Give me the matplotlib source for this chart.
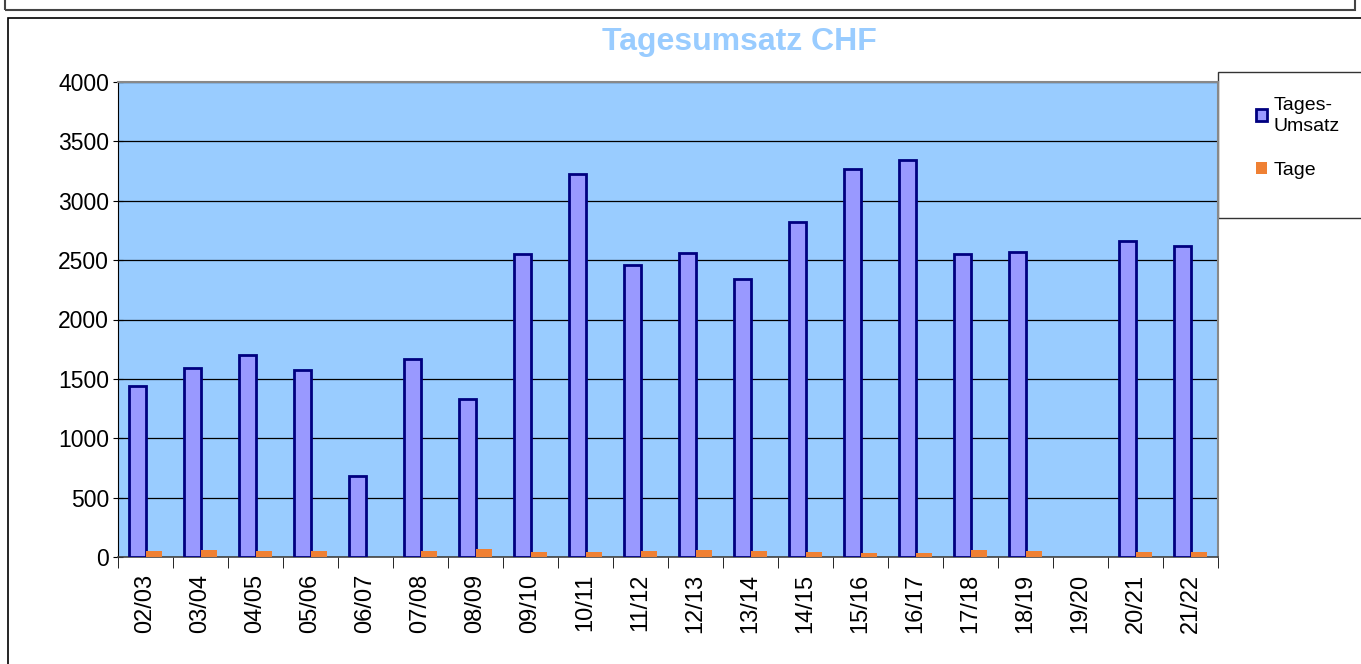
import numpy as np
import matplotlib.pyplot as plt
from matplotlib.patches import Rectangle

# data
seasons = ["02/03", "03/04", "04/05", "05/06", "06/07", "07/08", "08/09", "09/10",
           "10/11", "11/12", "12/13", "13/14", "14/15", "15/16", "16/17", "17/18",
           "18/19", "19/20", "20/21", "21/22"]
umsatz = [1440, 1590, 1700, 1575, 685, 1665, 1330, 2555, 3225, 2460,
          2560, 2345, 2820, 3265, 3345, 2550, 2570, 0, 2660, 2615]
tage = [50, 55, 52, 52, 3, 50, 65, 42, 42, 50,
        56, 52, 42, 35, 32, 60, 50, 0, 45, 45]

plt.rcParams["font.family"] = ["Liberation Sans", "DejaVu Sans"]

W, H = 1361, 664
fig = plt.figure(figsize=(W / 100, H / 100), dpi=100)

# outer frames (like the Excel chart object)
fig.patches.append(Rectangle((5 / W, 1 - 10 / H), 1350 / W, 20 / H, transform=fig.transFigure,
                             fill=False, edgecolor="#444444", lw=1.5, zorder=-1))
fig.patches.append(Rectangle((8 / W, -0.1), 1.2, 1 - 18 / H + 0.1, transform=fig.transFigure,
                             fill=False, edgecolor="black", lw=1.2, zorder=-1))
# legend box
fig.patches.append(Rectangle((1218 / W, 1 - 218 / H), 0.2, 146 / H, transform=fig.transFigure,
                             facecolor="white", edgecolor="#333333", lw=1, zorder=-1))

ax = fig.add_axes([118 / W, 1 - 557 / H, 1100 / W, 475 / H])
ax.set_facecolor("#99CCFF")

x = np.arange(len(seasons))
w = 0.3
edge_w = [2 if v > 0 else 0 for v in umsatz]
ax.bar(x - 0.15, umsatz, w, color="#9999FF", edgecolor="#000080", linewidth=edge_w,
       label="Tages-\nUmsatz", zorder=3)
ax.bar(x + 0.15, tage, w, color="#EF8033", edgecolor="none", label="Tage", zorder=3)

ax.set_xlim(-0.5, len(seasons) - 0.5)
ax.set_ylim(0, 4000)
ax.set_yticks(range(0, 4001, 500))
ax.grid(axis="y", color="black", lw=0.9, zorder=1)
ax.set_axisbelow(True)

ax.set_xticks(x)
ax.set_xticklabels(seasons, rotation=90, fontsize=17)
ax.set_xticks(np.arange(-0.5, len(seasons), 1), minor=True)
ax.tick_params(axis="x", which="major", length=0, pad=12)
ax.tick_params(axis="x", which="minor", length=8, direction="out", color="black")
ax.tick_params(axis="y", labelsize=16.5, length=7, direction="inout", pad=3)

for s in ["top", "right"]:
    ax.spines[s].set_color("#888888")
    ax.spines[s].set_linewidth(1.5)
ax.spines["left"].set_color("black")
ax.spines["bottom"].set_color("#444444")
ax.spines["bottom"].set_linewidth(1.2)

fig.text(739 / W, 1 - 42 / H, "Tagesumsatz CHF", ha="center", va="center",
         fontsize=23, fontweight="bold", color="#99CCFF")

leg = fig.legend(loc="upper left", bbox_to_anchor=(1246 / W, 1 - 87 / H),
                 bbox_transform=fig.transFigure, frameon=False, fontsize=14,
                 handlelength=0.6, handleheight=0.6, handletextpad=0.3,
                 labelspacing=1.4, borderpad=0)
leg.get_texts()[0].set_linespacing(1.3)

fig.savefig("out.png", dpi=100)
